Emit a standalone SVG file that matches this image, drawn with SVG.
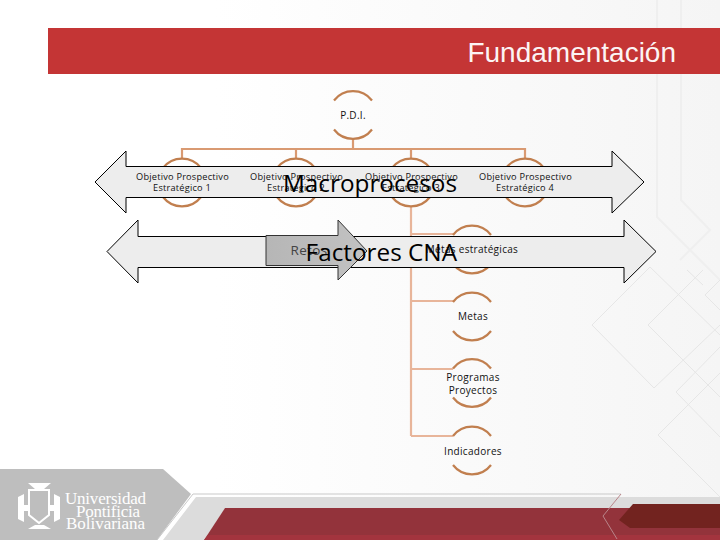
<svg xmlns="http://www.w3.org/2000/svg" width="720" height="540" viewBox="0 0 720 540">
<style>
.arc{fill:none;stroke:#c17f4f;stroke-width:2.2}
.l1{fill:none;stroke:#d99a72;stroke-width:2.2}
.l2{fill:none;stroke:#e8b59a;stroke-width:2.2}
.dm{fill:none;stroke:#e6e6e6;stroke-width:1}
.vb{fill:none;stroke:#efefef;stroke-width:2}
.arrow{fill:#ededed;stroke:#000;stroke-width:1}
.t{font-family:"Open Sans","DejaVu Sans",sans-serif;font-size:10px;fill:#111;text-anchor:middle;letter-spacing:.3px}
.s{font-family:"Open Sans","DejaVu Sans",sans-serif;font-size:9.2px;fill:#111;text-anchor:middle;letter-spacing:.22px}
.big{font-family:"Open Sans","DejaVu Sans",sans-serif;font-size:24.3px;fill:#000;text-anchor:end}
.logo{font-family:"Liberation Serif",serif;font-size:17px;fill:#fff}
</style>
<defs>
<linearGradient id="bg" x1="0" x2="1" y1="0" y2="0"><stop offset=".3" stop-color="#fff"/><stop offset="1" stop-color="#f5f5f5"/></linearGradient>
<linearGradient id="ret" x1="0" x2="1" y1="0" y2="0"><stop offset="0" stop-color="#b6b6b6"/><stop offset="1" stop-color="#c2c2c2"/></linearGradient>
<path id="c" d="M-19-14.5A24 24 0 0 1 19-14.5M-19 14.5A24 24 0 0 0 19 14.5" class="arc"/>
</defs>
<rect width="720" height="540" fill="url(#bg)"/>
<g id="background">
<path class="vb" d="M657 0V217L720 280M681 0V200L710 230L680 260"/>
<path class="dm" d="M592 325L650 267L720 335M592 325L654 388L720 325M648 325L703 270M648 325L720 397M676 392L720 347M676 392L720 437M658 435L720 373M658 435L720 497M687 270L703 285M705 295L720 280M705 295L720 310"/>
<path fill="#bebebe" d="M0 469H163L191 494L157 540H0Z"/>
<path fill="#dcdcdc" d="M196 497H720V509H225L204 540H163Z"/>
<path fill="none" stroke="#c9c9c9" d="M157 540L193 494H621"/>
<path fill="#93333b" d="M225 508H720V540H204Z"/>
<path fill="#a3343e" d="M208 535H720V540H204Z"/>
<path fill="#72231f" d="M633 504H720V528H630L619 520Z"/>
<path fill="none" stroke="#b9858a" d="M621 494L603 516L617 539"/>
</g>
<g id="logo">
<path fill="#fff" d="M28 483H51L44 489H35ZM28 529L35 525H44L51 529ZM18 497L24 494V522L18 519ZM60 497L54 494V522L60 519ZM24 505H28V511H24ZM50 505H54V511H50Z"/>
<path fill="none" stroke="#fff" stroke-width="2" d="M29 490H49V515L39 523L29 515Z"/>
<text class="logo" x="65" y="504" textLength="81">Universidad</text>
<text class="logo" x="76" y="517" textLength="64">Pontificia</text>
<text class="logo" x="66" y="529" textLength="79">Bolivariana</text>
</g>
<g id="title">
<rect x="48" y="28" width="672" height="46" fill="#c43535"/>
<text x="676" y="62" font-family="Liberation Sans,sans-serif" font-size="28" fill="#fff" text-anchor="end" opacity=".95">Fundamentación</text>
</g>
<g id="connectors">
<path class="l1" d="M353 138V149M182 159V149H525V159M296 149V159M411 149V159"/>
<path class="l2" d="M411 206V436M411 234H453M411 301H453M411 369H453M411 436H453"/>
</g>
<g id="node-pdi"><use href="#c" x="353" y="115"/><text class="t" x="353" y="119">P.D.I.</text></g>
<g id="node-o1-ring"><use href="#c" x="182" y="182.5"/></g>
<g id="node-o2-ring"><use href="#c" x="296" y="182.5"/></g>
<g id="node-o3-ring"><use href="#c" x="411" y="182.5"/></g>
<g id="node-o4-ring"><use href="#c" x="525" y="182.5"/></g>
<g id="node-me-ring"><use href="#c" x="472" y="249.5"/></g>
<g id="arrows">
<path id="arrow1" class="arrow" d="M95 182L126 151V166.5H612V151L644 182L612 213V197.5H126V213Z"/>
<path id="arrow2" class="arrow" d="M107 251.5L138 220V236.5H624V220L656 251.5L624 283V267.5H138V283Z"/>
</g>
<g id="node-o1"><text class="s" x="182.500" y="180">Objetivo Prospectivo</text><text class="s" x="182" y="191">Estratégico 1</text></g>
<g id="node-o2"><text class="s" x="296.500" y="180">Objetivo Prospectivo</text><text class="s" x="296" y="191">Estratégico 2</text></g>
<g id="node-o3"><text class="s" x="411.500" y="180">Objetivo Prospectivo</text><text class="s" x="411" y="191">Estratégico 3</text></g>
<g id="node-o4"><text class="s" x="525.500" y="180">Objetivo Prospectivo</text><text class="s" x="525" y="191">Estratégico 4</text></g>
<g id="node-metas-est"><text class="t" x="472" y="253">Metas estratégicas</text></g>
<g id="node-retos"><path d="M266 235.500H338V220L367 251L338 280V265.500H266Z" fill="url(#ret)" stroke="#333"/><text class="t" x="309" y="255" style="font-size:13.500px;fill:#444">Retos</text></g>
<g id="node-metas"><use href="#c" x="472" y="316.5"/><text class="t" x="473" y="320">Metas</text></g>
<g id="node-prog"><use href="#c" x="472" y="383"/><text class="t" x="473" y="381">Programas</text><text class="t" x="473" y="394">Proyectos</text></g>
<g id="node-ind"><use href="#c" x="472" y="450.5"/><text class="t" x="473" y="455">Indicadores</text></g>
<text class="big" x="457" y="192">Macroprocesos</text>
<text class="big" x="457" y="261">Factores CNA</text>
</svg>
